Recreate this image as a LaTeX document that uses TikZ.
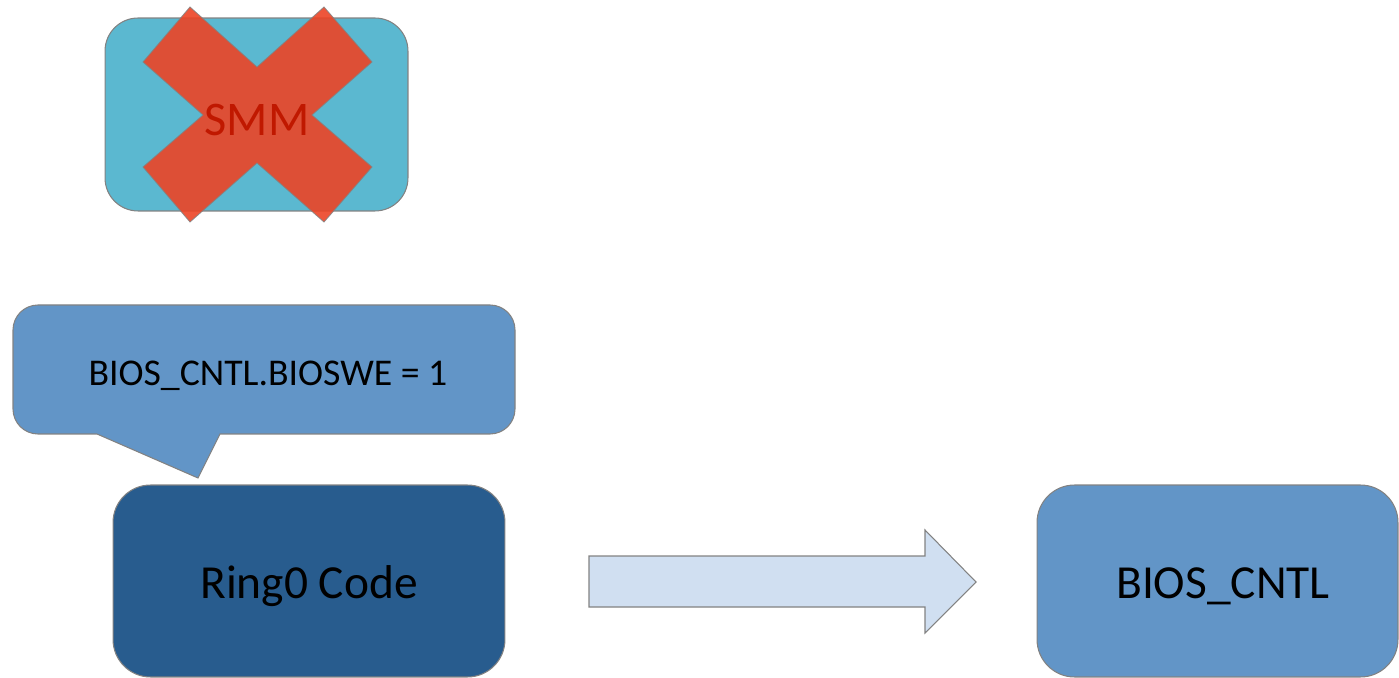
\documentclass[tikz,border=0pt]{standalone}
\usepackage{fontspec}
\setmainfont{Carlito}
\definecolor{smmfill}{RGB}{91,184,208}
\definecolor{xred}{RGB}{236,68,38}
\definecolor{smmtext}{RGB}{192,24,0}
\definecolor{midblue}{RGB}{98,149,199}
\definecolor{darkblue}{RGB}{40,92,142}
\definecolor{paleblue}{RGB}{208,223,241}
\definecolor{edgegray}{RGB}{130,130,130}
\begin{document}
\begin{tikzpicture}[x=0.02cm,y=-0.02cm,
  box/.style={draw=edgegray,line width=0.6pt,rectangle,inner sep=0pt},
  bigtext/.style={font=\fontsize{27}{32}\selectfont,text=black}]
\useasboundingbox (0,0) rectangle (1399,678);
% SMM box
\node[box,fill=smmfill,rounded corners=0.66cm,minimum width=6.06cm,minimum height=3.86cm] (smm) at (256.5,114.5) {};
% red cross
\fill[xred,fill opacity=0.9,draw=edgegray,draw opacity=0.8,line width=0.5pt]
  (190,7) -- (257,67) -- (324,7) -- (372,62) -- (312,115) -- (372,167) -- (324,222)
  -- (257,163) -- (190,222) -- (143,167) -- (203,115) -- (143,62) -- cycle;
\node[font=\fontsize{27.5}{32}\selectfont,text=smmtext] (smmlabel) at (257,120) {SMM};
% callout
\draw[draw=edgegray,line width=0.6pt,fill=midblue,rounded corners=0.5cm]
  (13,330) -- (13,305) -- (515,305) -- (515,434) [sharp corners] -- (220,434) -- (198,478) -- (97,434) [rounded corners=0.5cm] -- (13,434) -- (13,330);
\node[font=\fontsize{21.5}{26}\selectfont,text=black] (callout) at (268,376) {BIOS\_CNTL.BIOSWE = 1};
% Ring0 box
\node[box,fill=darkblue,rounded corners=0.75cm,minimum width=7.84cm,minimum height=3.84cm] (ring0) at (309,581) {};
\node[bigtext] (ring0label) at (309,586) {Ring0 Code};
% BIOS_CNTL box
\node[box,fill=midblue,rounded corners=0.75cm,minimum width=7.22cm,minimum height=3.84cm] (bios) at (1217.5,581) {};
\node[bigtext] (bioslabel) at (1223,586) {BIOS\_CNTL};
% block arrow
\draw[draw=edgegray,line width=0.6pt,fill=paleblue]
  (589,556) -- (925,556) -- (925,530) -- (976,582) -- (925,633) -- (925,607) -- (589,607) -- cycle;
\end{tikzpicture}
\end{document}
